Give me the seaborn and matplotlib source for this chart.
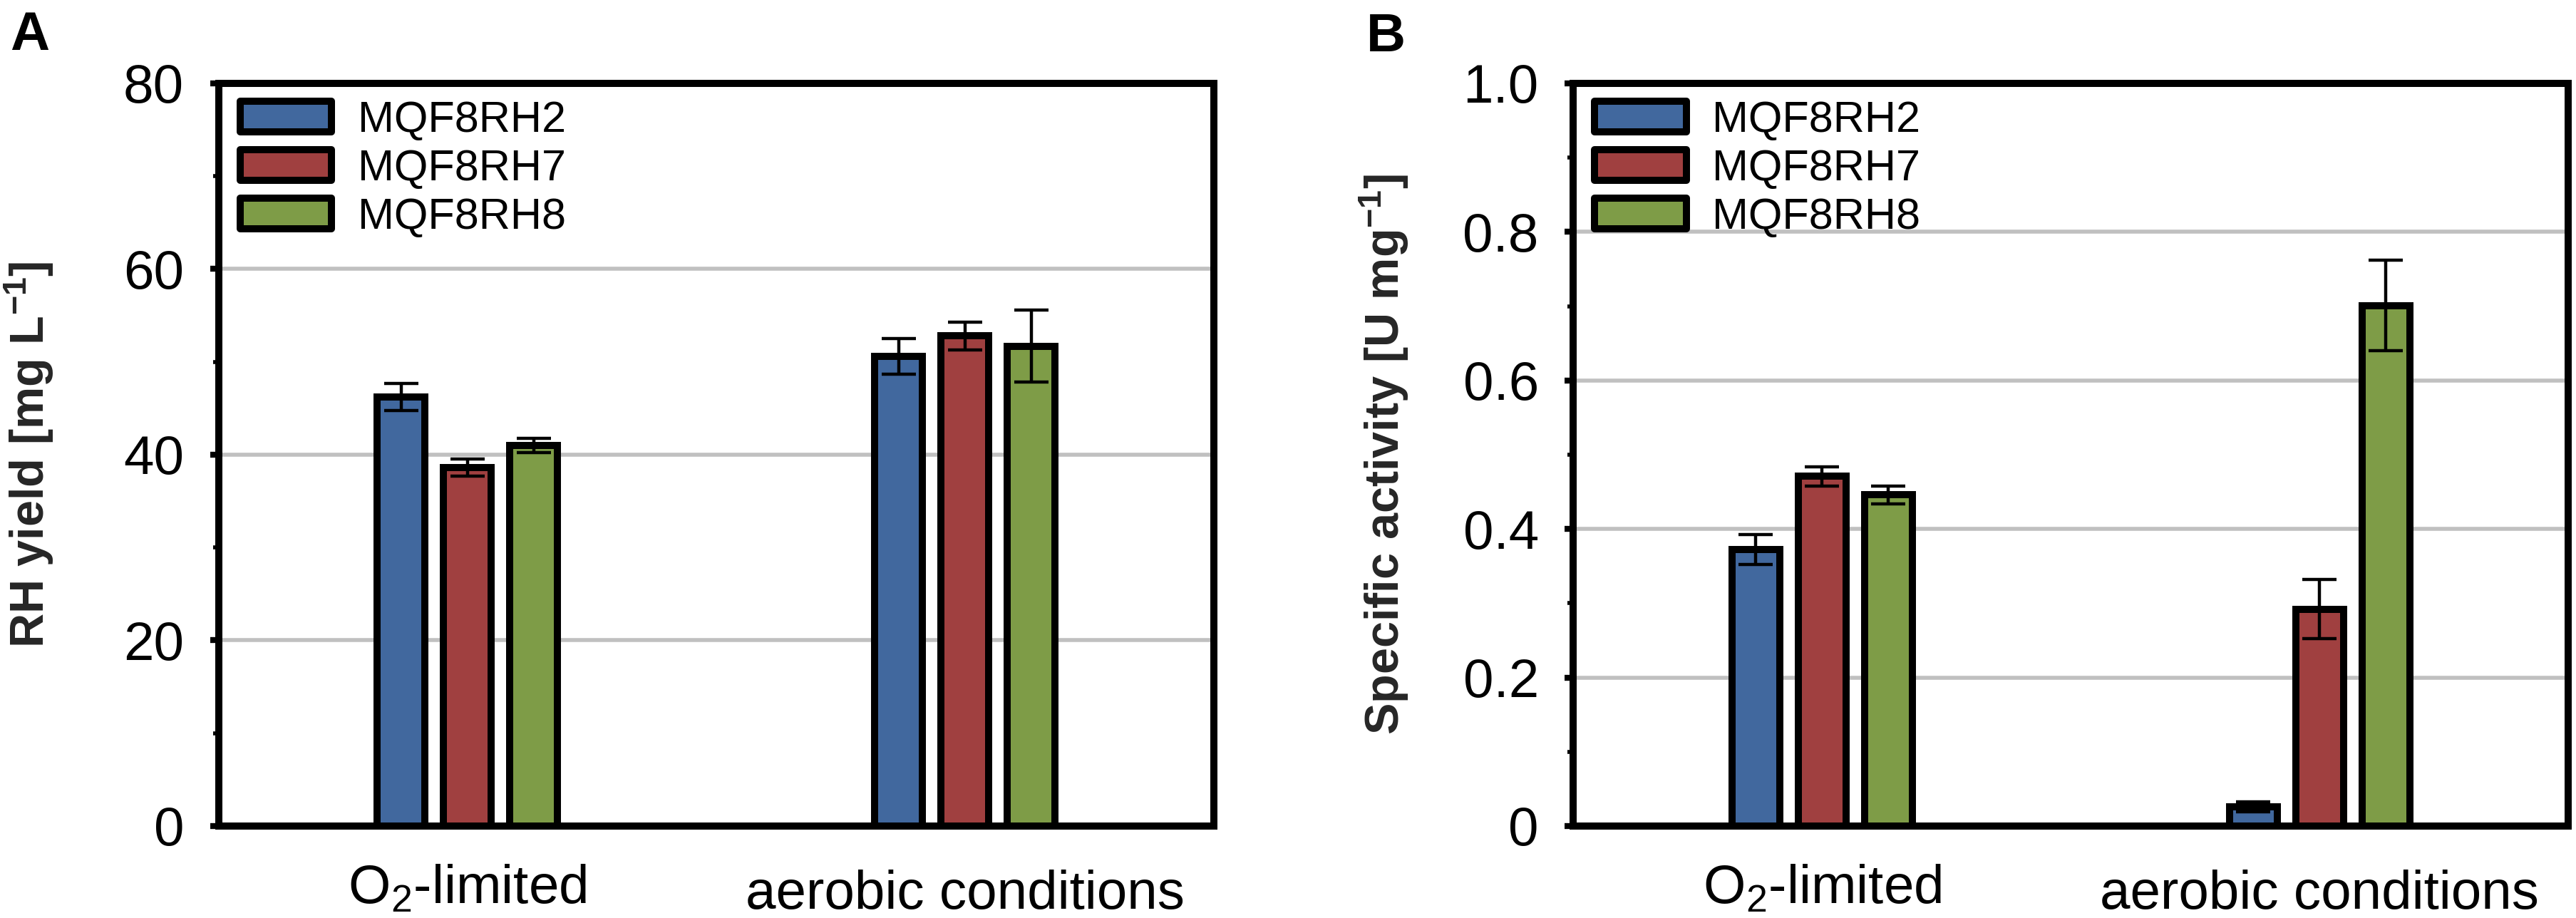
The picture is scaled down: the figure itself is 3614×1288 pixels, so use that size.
import pandas as pd
import seaborn as sns
import matplotlib
matplotlib.use("Agg")
import matplotlib.pyplot as plt
from matplotlib.ticker import AutoMinorLocator, FixedLocator

# data
conditions = ["O$_2$-limited", "aerobic conditions"]
strains = ["MQF8RH2", "MQF8RH7", "MQF8RH8"]
colors = ["#41689e", "#a04040", "#7e9c47"]

# panel A: RH yield [mg/L], per strain over conditions
yield_mean = {
    "MQF8RH2": [46.2, 50.6],
    "MQF8RH7": [38.6, 52.8],
    "MQF8RH8": [41.0, 51.7],
}
yield_err = {
    "MQF8RH2": [1.45, 1.9],
    "MQF8RH7": [0.9, 1.5],
    "MQF8RH8": [0.8, 3.9],
}

# panel B: specific activity [U/mg]
activity_mean = {
    "MQF8RH2": [0.372, 0.026],
    "MQF8RH7": [0.471, 0.292],
    "MQF8RH8": [0.446, 0.701],
}
activity_err = {
    "MQF8RH2": [0.02, 0.007],
    "MQF8RH7": [0.013, 0.04],
    "MQF8RH8": [0.012, 0.061],
}

yticks_a = [0, 20, 40, 60, 80]
yticks_b = [0, 0.2, 0.4, 0.6, 0.8, 1.0]
ytick_labels_b = ["0", "0.2", "0.4", "0.6", "0.8", "1.0"]

sns.set_style("white")
plt.rcParams["font.family"] = ["Liberation Sans", "DejaVu Sans"]
plt.rcParams["mathtext.default"] = "regular"
plt.rcParams["axes.edgecolor"] = "black"
plt.rcParams["text.color"] = "black"
plt.rcParams["xtick.color"] = "black"
plt.rcParams["ytick.color"] = "black"

LW = 3.6


def to_frame(means):
    rows = []
    for strain in strains:
        for cond, val in zip(conditions, means[strain]):
            rows.append({"condition": cond, "strain": strain, "value": val})
    return pd.DataFrame(rows)


def draw_panel(ax, means, errs, yticks, ylabels, ylabel):
    df = to_frame(means)
    sns.barplot(
        data=df, x="condition", y="value", hue="strain",
        order=conditions, hue_order=strains, palette=colors,
        width=0.4, gap=0.28, edgecolor="black", linewidth=LW,
        errorbar=None, saturation=1, ax=ax, zorder=2,
    )
    for container, strain in zip(ax.containers, strains):
        xs = [b.get_x() + b.get_width() / 2 for b in container]
        ys = [b.get_height() for b in container]
        ax.errorbar(xs, ys, yerr=errs[strain], fmt="none", ecolor="black",
                    elinewidth=1.6, capsize=8.5, capthick=1.6, zorder=3)

    ax.set_xlim(-0.5, 1.5)
    ax.set_ylim(yticks[0], yticks[-1])
    ax.yaxis.set_major_locator(FixedLocator(yticks))
    ax.set_yticklabels(ylabels)
    ax.yaxis.set_minor_locator(AutoMinorLocator(2))
    ax.set_axisbelow(True)
    ax.yaxis.grid(True, which="major", color="#c0c0c0", linewidth=2)
    ax.xaxis.grid(False)

    for sp in ax.spines.values():
        sp.set_visible(True)
        sp.set_linewidth(LW)
        sp.set_color("black")
        sp.set_zorder(4)

    ax.tick_params(axis="y", which="major", direction="out", left=True,
                   length=4.5, width=3, pad=13, labelsize=27.5)
    ax.tick_params(axis="y", which="minor", direction="out", left=True,
                   length=2.8, width=2)
    ax.tick_params(axis="x", length=0, pad=19, labelsize=27.5)

    ax.set_xlabel("")
    ax.set_ylabel(ylabel, fontsize=24, fontweight="bold")
    ax.yaxis.set_label_coords(-0.164, 0.5)

    xl = ax.get_xticklabels()
    xl[1].set_y(-0.008)

    leg = ax.legend(loc="upper left", bbox_to_anchor=(0.0215, 0.977),
                    frameon=False, fontsize=22, handlelength=2.1,
                    handleheight=0.7, handletextpad=0.6, labelspacing=0.18,
                    borderaxespad=0, borderpad=0)
    for h in leg.legend_handles:
        h.set_edgecolor("black")
        h.set_linewidth(LW)
        h.set_joinstyle("round")


fig, (ax_a, ax_b) = plt.subplots(1, 2, figsize=(18.07, 6.44), dpi=200)
ax_a.set_position([0.0849, 0.1002, 0.3863, 0.8090])
ax_b.set_position([0.6108, 0.1002, 0.3862, 0.8090])

draw_panel(ax_a, yield_mean, yield_err, yticks_a,
           [str(t) for t in yticks_a], "RH yield [mg L$^{-1}$]")
draw_panel(ax_b, activity_mean, activity_err, yticks_b,
           ytick_labels_b, "Specific activity [U mg$^{-1}$]")

fig.text(14 / 3614, 1 - 15 / 1288, "A", fontsize=27.5, fontweight="bold",
         ha="left", va="top")
fig.text(1917 / 3614, 1 - 17 / 1288, "B", fontsize=27.5, fontweight="bold",
         ha="left", va="top")

fig.savefig("out.png", dpi=200, facecolor="white")
